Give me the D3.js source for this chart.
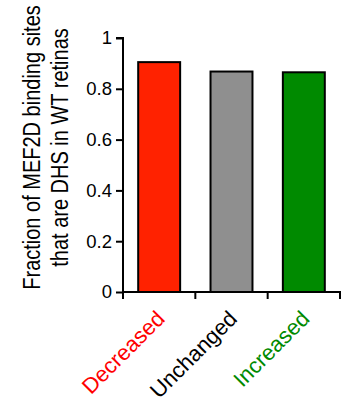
<!DOCTYPE html>
<html><head><meta charset="utf-8">
<script src="https://cdn.jsdelivr.net/npm/d3@7"></script>
<style>body{margin:0;background:#fff;} text{font-family:"Liberation Sans",Arial,sans-serif;}</style>
</head><body>
<svg id="c" width="344" height="406"></svg>
<script>
const categories = ["Decreased", "Unchanged", "Increased"];
const values = [0.905, 0.868, 0.865];
const barColors = ["#ff2200", "#8f8f8f", "#008a00"];
const labelColors = ["#ff0000", "#000000", "#008a00"];
const yTicks = [0, 0.2, 0.4, 0.6, 0.8, 1];
const yTickLabels = ["0", "0.2", "0.4", "0.6", "0.8", "1"];
const yTitle = ["Fraction of MEF2D binding sites", "that are DHS in WT retinas"];

(function () {
const svg = d3.select("#c");
const mLeft = 123, mRight = 340, mTop = 38, mBottom = 292;
const x = d3.scaleBand().domain(categories).range([mLeft, mRight]).paddingInner(0.42).paddingOuter(0.21);
const y = d3.scaleLinear().domain([0, 1]).range([mBottom, mTop]);

svg.selectAll("rect.bar").data(categories).join("rect")
  .attr("class", "bar")
  .attr("x", d => x(d))
  .attr("width", x.bandwidth())
  .attr("y", (d, i) => y(values[i]))
  .attr("height", (d, i) => y(0) - y(values[i]))
  .attr("fill", (d, i) => barColors[i])
  .attr("stroke", "#000").attr("stroke-width", 2);

const ya = svg.append("g").attr("transform", `translate(${mLeft},0)`)
  .call(d3.axisLeft(y).tickValues(yTicks).tickFormat((d, i) => yTickLabels[i]).tickSize(7).tickPadding(4));
ya.select(".domain").attr("stroke-width", 2).attr("d", `M-7,${mTop}H0V${mBottom}`);
ya.selectAll(".tick line").attr("stroke-width", 2);
ya.selectAll(".tick text").attr("font-size", 18.5).attr("font-family", "Liberation Sans, Arial, sans-serif").attr("fill", "#000");

const step = x.step();
const boundaries = d3.range(categories.length + 1).map(i => mLeft + i * step);
const xa = svg.append("g");
xa.append("line").attr("x1", mLeft - 1).attr("x2", mRight + 1).attr("y1", mBottom).attr("y2", mBottom)
  .attr("stroke", "#000").attr("stroke-width", 2);
xa.selectAll("line.tk").data(boundaries).join("line").attr("class", "tk")
  .attr("x1", d => d).attr("x2", d => d).attr("y1", mBottom).attr("y2", mBottom + 7)
  .attr("stroke", "#000").attr("stroke-width", 2);

svg.selectAll("text.xl").data(categories).join("text").attr("class", "xl")
  .attr("transform", d => `translate(${x(d) + x.bandwidth() / 2 + 7},${mBottom + 28}) rotate(-45)`)
  .attr("text-anchor", "end")
  .attr("font-size", 22)
  .attr("fill", (d, i) => labelColors[i])
  .text(d => d);

const yt = svg.append("text").attr("transform", "translate(39.5,147.5) rotate(-90) scale(1,1.15)")
  .attr("text-anchor", "middle").attr("font-size", 20).attr("fill", "#000");
yt.selectAll("tspan").data(yTitle).join("tspan")
  .attr("x", 0).attr("dy", (d, i) => i === 0 ? 0 : 25.2).text(d => d);
})();
</script>
</body></html>
